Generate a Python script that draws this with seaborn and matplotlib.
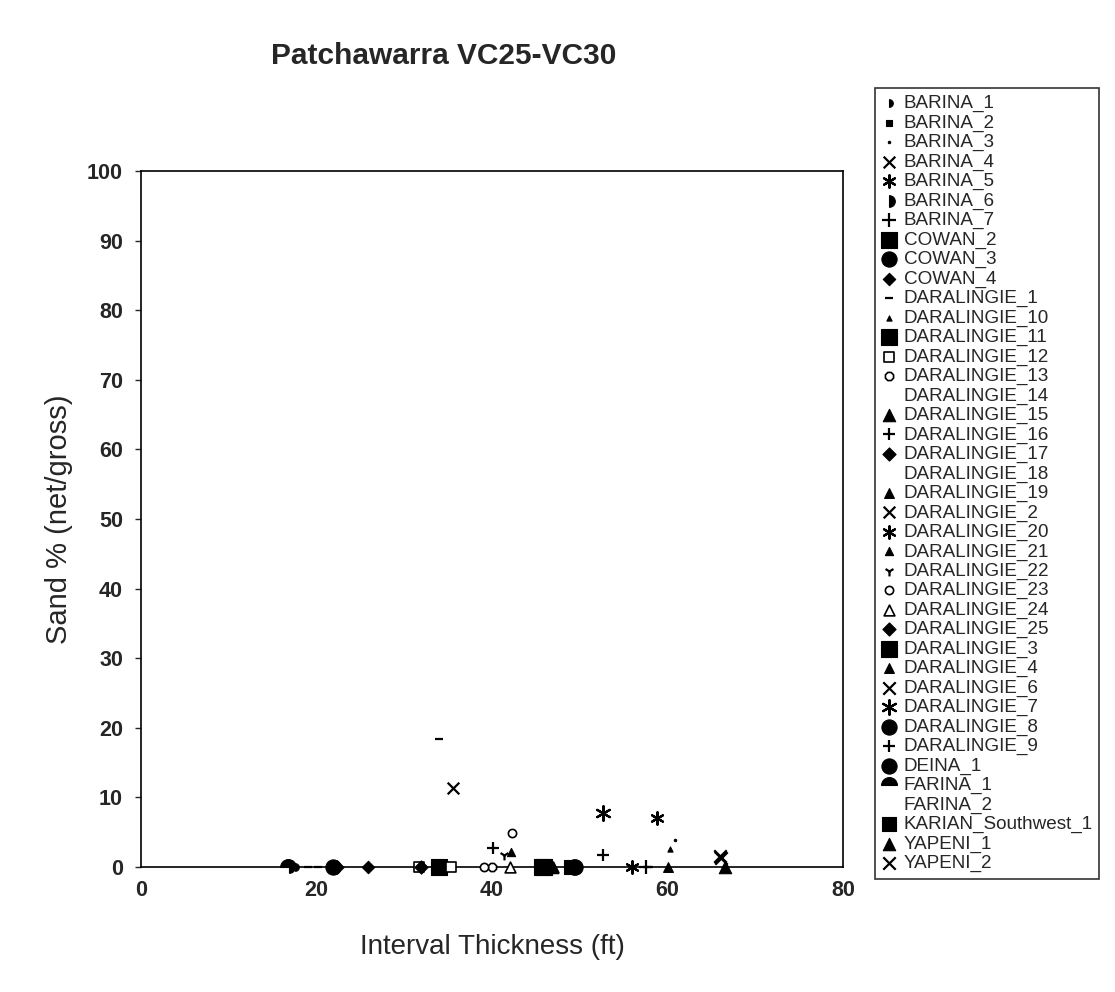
import matplotlib
matplotlib.use("Agg")
import matplotlib.pyplot as plt
from matplotlib.markers import MarkerStyle
import seaborn as sns
import pandas as pd

# Wells in legend order
wells = [
    "BARINA_1", "BARINA_2", "BARINA_3", "BARINA_4", "BARINA_5", "BARINA_6", "BARINA_7",
    "COWAN_2", "COWAN_3", "COWAN_4",
    "DARALINGIE_1", "DARALINGIE_10", "DARALINGIE_11", "DARALINGIE_12", "DARALINGIE_13",
    "DARALINGIE_14", "DARALINGIE_15", "DARALINGIE_16", "DARALINGIE_17", "DARALINGIE_18",
    "DARALINGIE_19", "DARALINGIE_2", "DARALINGIE_20", "DARALINGIE_21", "DARALINGIE_22",
    "DARALINGIE_23", "DARALINGIE_24", "DARALINGIE_25", "DARALINGIE_3", "DARALINGIE_4",
    "DARALINGIE_6", "DARALINGIE_7", "DARALINGIE_8", "DARALINGIE_9",
    "DEINA_1", "FARINA_1", "FARINA_2", "KARIAN_Southwest_1", "YAPENI_1", "YAPENI_2",
]

# One entry per measured interval
point_well = [
    "BARINA_1", "BARINA_2", "BARINA_3", "BARINA_4", "BARINA_5", "BARINA_6", "BARINA_7",
    "COWAN_2", "COWAN_3", "COWAN_4",
    "DARALINGIE_1", "DARALINGIE_1", "DARALINGIE_1", "DARALINGIE_1",
    "DARALINGIE_10", "DARALINGIE_11", "DARALINGIE_12", "DARALINGIE_12", "DARALINGIE_13",
    "DARALINGIE_14", "DARALINGIE_15", "DARALINGIE_16", "DARALINGIE_17", "DARALINGIE_18",
    "DARALINGIE_19", "DARALINGIE_2", "DARALINGIE_20", "DARALINGIE_21", "DARALINGIE_22",
    "DARALINGIE_23", "DARALINGIE_23", "DARALINGIE_24", "DARALINGIE_24", "DARALINGIE_25",
    "DARALINGIE_3", "DARALINGIE_4", "DARALINGIE_6", "DARALINGIE_7", "DARALINGIE_8",
    "DARALINGIE_9", "DEINA_1", "FARINA_1", "FARINA_2", "KARIAN_Southwest_1",
    "YAPENI_1", "YAPENI_2",
]
thickness_ft = [
    17.6, 49.9, 60.9, 35.6, 55.9, 16.9, 57.5,
    34.0, 49.5, 25.9,
    34.0, 57.7, 19.0, 20.2,
    60.3, 45.7, 31.7, 35.3, 40.0,
    28.0, 66.5, 40.1, 31.9, 44.0,
    60.0, 66.0, 58.8, 42.2, 41.4,
    42.3, 39.1, 42.0, 46.9, 22.3,
    45.9, 47.0, 66.1, 52.6, 49.3,
    52.7, 21.9, 16.8, 10.0, 49.0,
    46.8, 66.0,
]
sand_pct = [
    0.0, 0.0, 3.9, 11.3, 0.0, 0.0, 0.0,
    0.0, 0.0, 0.0,
    18.4, 0.0, 0.0, 0.0,
    2.6, 0.0, 0.0, 0.0, 0.0,
    0.0, 0.0, 2.7, 0.0, 0.0,
    0.0, 1.5, 7.0, 2.2, 1.7,
    4.9, 0.0, 0.0, 0.0, 0.0,
    0.0, 0.0, 1.3, 7.7, 0.0,
    1.7, 0.0, 0.0, 0.0, 0.0,
    0.0, 1.6,
]

df = pd.DataFrame({"well": point_well, "thickness": thickness_ft, "sand": sand_pct})

# Marker styling per well: (marker, size, kind) where kind is
# "fill" (solid black), "open" (white face), "blank" or "line" (line-art marker)
asterisk = (6, 2, 0)
style = {
    "BARINA_1": (MarkerStyle("o", fillstyle="right"), 30, "fill"),
    "BARINA_2": ("s", 22, "fill"),
    "BARINA_3": (".", 12, "fill"),
    "BARINA_4": ("x", 70, "line"),
    "BARINA_5": (asterisk, 80, "line"),
    "BARINA_6": (MarkerStyle("o", fillstyle="right"), 70, "fill"),
    "BARINA_7": ("+", 90, "line"),
    "COWAN_2": ("s", 120, "fill"),
    "COWAN_3": ("o", 120, "fill"),
    "COWAN_4": ("D", 40, "fill"),
    "DARALINGIE_1": ("_", 30, "line"),
    "DARALINGIE_10": ("^", 14, "fill"),
    "DARALINGIE_11": ("s", 120, "fill"),
    "DARALINGIE_12": ("s", 55, "open"),
    "DARALINGIE_13": ("8", 40, "open"),
    "DARALINGIE_14": ("o", 40, "blank"),
    "DARALINGIE_15": ("^", 80, "fill"),
    "DARALINGIE_16": ("+", 80, "line"),
    "DARALINGIE_17": ("D", 45, "fill"),
    "DARALINGIE_18": ("o", 40, "blank"),
    "DARALINGIE_19": ("^", 50, "fill"),
    "DARALINGIE_2": ("x", 70, "line"),
    "DARALINGIE_20": (asterisk, 80, "line"),
    "DARALINGIE_21": ("^", 35, "fill"),
    "DARALINGIE_22": ("1", 50, "line"),
    "DARALINGIE_23": ("o", 35, "open"),
    "DARALINGIE_24": ("^", 60, "open"),
    "DARALINGIE_25": ("D", 45, "fill"),
    "DARALINGIE_3": ("s", 120, "fill"),
    "DARALINGIE_4": ("^", 50, "fill"),
    "DARALINGIE_6": ("x", 80, "line"),
    "DARALINGIE_7": (asterisk, 110, "line"),
    "DARALINGIE_8": ("o", 120, "fill"),
    "DARALINGIE_9": ("+", 80, "line"),
    "DEINA_1": ("o", 120, "fill"),
    "FARINA_1": (MarkerStyle("o", fillstyle="top"), 130, "fill"),
    "FARINA_2": ("o", 40, "blank"),
    "KARIAN_Southwest_1": ("s", 90, "fill"),
    "YAPENI_1": ("^", 80, "fill"),
    "YAPENI_2": ("x", 80, "line"),
}

sns.set_style("white")
plt.rcParams["font.family"] = ["Liberation Sans", "DejaVu Sans"]

fig = plt.figure(figsize=(11.15, 9.92), dpi=100)
ax = fig.add_axes([0.1265, 0.126, 0.6296, 0.7016])

for well in wells:
    sub = df[df["well"] == well]
    marker, size, kind = style[well]
    kws = dict(x=sub["thickness"], y=sub["sand"], marker=marker, s=size,
               ax=ax, label=well, clip_on=False, zorder=3)
    if kind == "fill":
        kws.update(color="black", edgecolor="black", linewidth=0.8)
    elif kind == "open":
        kws.update(facecolor="white", edgecolor="black", linewidth=1.2)
    elif kind == "blank":
        kws.update(facecolor="none", edgecolor="none", linewidth=0)
    else:
        kws.update(color="black", linewidth=1.6)
    sns.scatterplot(**kws)

ax.set_xlim(0, 80)
ax.set_ylim(0, 100)
ax.set_xticks(range(0, 81, 20))
ax.set_yticks(range(0, 101, 10))
for side in ["left", "right", "top", "bottom"]:
    ax.spines[side].set_visible(True)
    ax.spines[side].set_color("black")
    ax.spines[side].set_linewidth(1.2)

ax.tick_params(axis="x", length=0, pad=9, labelsize=15.5)
ax.tick_params(axis="y", length=4, width=1, direction="out", left=True, pad=9, labelsize=15.5)
for lab in ax.get_xticklabels() + ax.get_yticklabels():
    lab.set_fontweight("bold")

ax.set_xlabel("Interval Thickness (ft)", fontsize=20, labelpad=24)
ax.set_ylabel("Sand % (net/gross)", fontsize=21, labelpad=10)

fig.text(0.398, 0.944, "Patchawarra VC25-VC30", ha="center", va="center",
         fontsize=21.5, fontweight="bold")

handles, labels = ax.get_legend_handles_labels()
if ax.get_legend() is not None:
    ax.get_legend().remove()

leg = fig.legend(handles, labels, loc="upper left", bbox_to_anchor=(0.785, 0.911),
                 fontsize=13.6, labelspacing=0.11, handlelength=0.8, handletextpad=0.35,
                 borderpad=0.35, borderaxespad=0, frameon=True, fancybox=False,
                 edgecolor="black", scatterpoints=1, markerscale=1.0)
leg.get_frame().set_linewidth(1.2)

fig.savefig("out.png", dpi=100, facecolor="white")
